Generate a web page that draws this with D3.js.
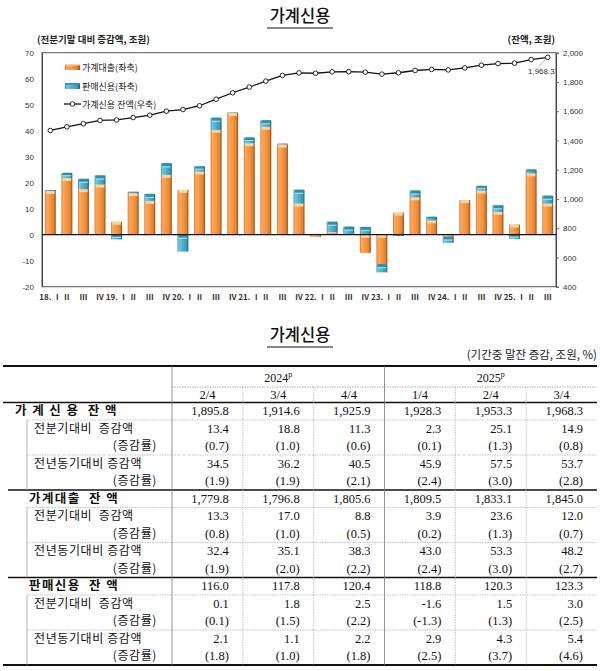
<!DOCTYPE html>
<html><head><meta charset="utf-8">
<script src="https://cdn.jsdelivr.net/npm/d3@7"></script>
<style>body{margin:0;background:#fff} svg{display:block}</style>
</head><body><svg id="c" width="600" height="671"></svg>
<script>
// ---------- chart data ----------
const periods = ["18Q1","18Q2","18Q3","18Q4","19Q1","19Q2","19Q3","19Q4","20Q1","20Q2","20Q3","20Q4",
  "21Q1","21Q2","21Q3","21Q4","22Q1","22Q2","22Q3","22Q4","23Q1","23Q2","23Q3","23Q4",
  "24Q1","24Q2","24Q3","24Q4","25Q1","25Q2","25Q3"];
const tickLabels = ["18. Ⅰ","Ⅱ","Ⅲ","Ⅳ","19. Ⅰ","Ⅱ","Ⅲ","Ⅳ","20. Ⅰ","Ⅱ","Ⅲ","Ⅳ",
  "21. Ⅰ","Ⅱ","Ⅲ","Ⅳ","22. Ⅰ","Ⅱ","Ⅲ","Ⅳ","23. Ⅰ","Ⅱ","Ⅲ","Ⅳ",
  "24. Ⅰ","Ⅱ","Ⅲ","Ⅳ","25. Ⅰ","Ⅱ","Ⅲ"];
const loans = [16.8,21.8,17.5,19.3,5.0,16.0,13.0,23.0,17.2,24.3,40.3,46.8,
  35.2,41.5,34.7,12.0,-0.8,1.0,0.3,-7.0,-11.3,8.5,14.4,5.5,
  -0.8,13.3,17.0,8.8,3.9,23.6,12.0];
const sales = [0.4,2.0,4.0,3.5,-1.8,0.5,2.7,4.5,-6.5,2.0,4.7,0.2,
  2.2,2.5,0.3,5.3,0.3,4.0,2.8,3.0,-3.2,-0.5,2.6,1.4,
  -2.3,0.1,1.8,2.5,-1.6,1.5,3.0];
const balance = [1468.2,1493.2,1514.4,1536.7,1540.0,1556.7,1572.7,1600.3,1611.3,1637.3,1682.1,1726.1,
  1765.0,1805.9,1844.9,1862.1,1859.4,1869.3,1870.6,1867.0,1853.3,1862.8,1878.3,1885.5,
  1882.4,1895.8,1914.6,1925.9,1928.3,1953.3,1968.3];
const leftTicks = [70,60,50,40,30,20,10,0,-10,-20];
const rightTicks = [2000,1800,1600,1400,1200,1000,800,600,400];
const legendLabels = ["가계대출(좌축)","판매신용(좌축)","가계신용 잔액(우축)"];

// ---------- table data ----------
const colYears = ["2024","2025"];
const colQuarters = ["2/4","3/4","4/4","1/4","2/4","3/4"];
const rowLabels = ["가 계 신 용  잔 액","전분기대비  증감액","(증감률)","전년동기대비 증감액","(증감률)",
  "가계대출  잔 액","전분기대비  증감액","(증감률)","전년동기대비 증감액","(증감률)",
  "판매신용  잔 액","전분기대비  증감액","(증감률)","전년동기대비 증감액","(증감률)"];
const hcBal = [1895.8,1914.6,1925.9,1928.3,1953.3,1968.3];
const hcQoq = [13.4,18.8,11.3,2.3,25.1,14.9];
const hcQoqR = [0.7,1.0,0.6,0.1,1.3,0.8];
const hcYoy = [34.5,36.2,40.5,45.9,57.5,53.7];
const hcYoyR = [1.9,1.9,2.1,2.4,3.0,2.8];
const hlBal = [1779.8,1796.8,1805.6,1809.5,1833.1,1845.0];
const hlQoq = [13.3,17.0,8.8,3.9,23.6,12.0];
const hlQoqR = [0.8,1.0,0.5,0.2,1.3,0.7];
const hlYoy = [32.4,35.1,38.3,43.0,53.3,48.2];
const hlYoyR = [1.9,2.0,2.2,2.4,3.0,2.7];
const scBal = [116.0,117.8,120.4,118.8,120.3,123.3];
const scQoq = [0.1,1.8,2.5,-1.6,1.5,3.0];
const scQoqR = [0.1,1.5,2.2,-1.3,1.3,2.5];
const scYoy = [2.1,1.1,2.2,2.9,4.3,5.4];
const scYoyR = [1.8,1.0,1.8,2.5,3.7,4.6];

const svg = d3.select("#c");
const KR = "'Noto Sans CJK KR','Noto Sans',sans-serif";
const SERIF = "'Liberation Serif','DejaVu Serif',serif";
const SANS = "'Liberation Sans',Arial,sans-serif";
const loc = d3.formatLocale({decimal:".", thousands:",", grouping:[3], currency:["",""], minus:"-"});

// ---------- defs ----------
const defs = svg.append("defs");
function grad(id, stops){
  const g = defs.append("linearGradient").attr("id",id).attr("x1","0").attr("x2","1").attr("y1","0").attr("y2","0");
  stops.forEach(s=>g.append("stop").attr("offset",s[0]).attr("stop-color",s[1]));
}
grad("gO",[[0,"#c8742c"],[0.12,"#fba75e"],[0.5,"#f7973f"],[0.82,"#e3822c"],[1,"#8e4c16"]]);
grad("gB",[[0,"#3a96ad"],[0.12,"#72c7dc"],[0.5,"#4bb0cb"],[0.82,"#3a9ab3"],[1,"#1d6477"]]);

// ---------- titles ----------
function title(y){
  svg.append("text").attr("x",300).attr("y",y).attr("text-anchor","middle")
    .attr("font-family",KR).attr("font-size",16.5).attr("font-weight",500).attr("fill","#111").text("가계신용");
  svg.append("line").attr("x1",267).attr("x2",333).attr("y1",y+6).attr("y2",y+6).attr("stroke","#111").attr("stroke-width",1.2);
}
title(22);

// ---------- chart ----------
const x0 = 42, x1 = 556, yT = 52.7, yB = 286.7;
const x = d3.scaleBand().domain(periods).range([x0,x1]).paddingInner(0.34).paddingOuter(0.17);
const yL = d3.scaleLinear().domain([-20,70]).range([yB,yT]);
const yR = d3.scaleLinear().domain([400,2000]).range([yB,yT]);

svg.append("text").attr("x",37).attr("y",43).attr("font-family",KR).attr("font-size",9.5).attr("font-weight",700)
  .attr("fill","#222").text("(전분기말 대비 증감액, 조원)");
svg.append("text").attr("x",555).attr("y",43).attr("text-anchor","end").attr("font-family",KR).attr("font-size",9.5)
  .attr("font-weight",700).attr("fill","#222").text("(잔액, 조원)");

// frame
svg.append("rect").attr("x",x0).attr("y",yT).attr("width",x1-x0).attr("height",yB-yT)
  .attr("fill","none").attr("stroke","#555").attr("stroke-width",1);

// left axis
const gL = svg.append("g").attr("transform",`translate(${x0},0)`)
  .call(d3.axisLeft(yL).tickValues(leftTicks).tickSize(0).tickPadding(8).tickFormat(loc.format("d")));
gL.select(".domain").attr("stroke","#444");
gL.selectAll("text").attr("font-family",SANS).attr("font-size",8).attr("fill","#333");

// right axis
const gR = svg.append("g").attr("transform",`translate(${x1},0)`)
  .call(d3.axisRight(yR).tickValues(rightTicks).tickSize(3).tickPadding(4).tickFormat(loc.format(",")));
gR.select(".domain").attr("stroke","#444");
gR.selectAll("line").attr("stroke","#666");
gR.selectAll("text").attr("font-family",SANS).attr("font-size",8).attr("fill","#333");

// x labels
const gX = svg.append("g").attr("transform",`translate(0,${yB})`)
  .call(d3.axisBottom(x).tickSize(0).tickPadding(8).tickFormat((d,i)=>tickLabels[i]));
gX.select(".domain").remove();
gX.selectAll("text").attr("font-family",KR).attr("font-size",8).attr("font-weight",700).attr("fill","#333");

// bars (stacked, diverging)
const rows = periods.map((p,i)=>({p, loans:loans[i], sales:sales[i]}));
const stack = d3.stack().keys(["loans","sales"]).offset(d3.stackOffsetDiverging)(rows);
const fills = {loans:"url(#gO)", sales:"url(#gB)"};
const caps = {loans:"#fcd3a4", sales:"#2f8ea8"};
const capsLight = {loans:"#f6b77a", sales:"#9fdced"};
stack.forEach(layer=>{
  const g = svg.append("g");
  layer.forEach(d=>{
    const top = yL(Math.max(d[0],d[1])), bot = yL(Math.min(d[0],d[1]));
    const h = bot-top;
    if (h < 0.3) return;
    const bx = x(d.data.p), bw = x.bandwidth();
    g.append("rect").attr("x",bx).attr("y",top).attr("width",bw).attr("height",h).attr("fill",fills[layer.key]);
    const ch = Math.min(3, h*0.45);
    g.append("rect").attr("x",bx+1.2).attr("y",top).attr("width",bw-2.4).attr("height",ch).attr("fill",caps[layer.key]);
    if (layer.key==="sales" && h>4)
      g.append("rect").attr("x",bx+1.2).attr("y",top+ch).attr("width",bw-2.4).attr("height",1.2).attr("fill",capsLight.sales);
  });
});

// zero line
svg.append("line").attr("x1",x0).attr("x2",x1).attr("y1",yL(0)).attr("y2",yL(0)).attr("stroke","#111").attr("stroke-width",1.2);

// balance line
const cx = p => x(p)+x.bandwidth()/2;
const line = d3.line().x((d,i)=>cx(periods[i])).y(d=>yR(d));
svg.append("path").datum(balance).attr("d",line).attr("fill","none").attr("stroke","#111").attr("stroke-width",1.3);
svg.append("g").selectAll("circle").data(balance).join("circle")
  .attr("cx",(d,i)=>cx(periods[i])).attr("cy",d=>yR(d)).attr("r",2.3)
  .attr("fill","#fff").attr("stroke","#111").attr("stroke-width",0.9);
// data label
const lastX = cx(periods[periods.length-1]), lastY = yR(balance[balance.length-1]);
svg.append("line").attr("x1",lastX-2).attr("y1",lastY+2).attr("x2",lastX-9).attr("y2",lastY+9).attr("stroke","#999").attr("stroke-width",0.7);
svg.append("text").attr("x",lastX+7).attr("y",lastY+17).attr("text-anchor","end").attr("font-family",SANS)
  .attr("font-size",8).attr("fill","#333").text(loc.format(",.1f")(balance[balance.length-1]));

// legend
const lg = svg.append("g");
[0,1].forEach(i=>{
  const ly = 67 + i*19;
  lg.append("rect").attr("x",65).attr("y",ly-3).attr("width",15).attr("height",6).attr("fill",i?"url(#gB)":"url(#gO)");
  lg.append("rect").attr("x",65).attr("y",ly-3).attr("width",15).attr("height",1.5).attr("fill",i?caps.sales:caps.loans);
  lg.append("text").attr("x",82).attr("y",ly+3.5).attr("font-family",KR).attr("font-size",9).attr("fill","#222").text(legendLabels[i]);
});
lg.append("line").attr("x1",64).attr("x2",81).attr("y1",104).attr("y2",104).attr("stroke","#111").attr("stroke-width",1.3);
lg.append("circle").attr("cx",72.5).attr("cy",104).attr("r",2.3).attr("fill","#fff").attr("stroke","#111").attr("stroke-width",0.9);
lg.append("text").attr("x",82).attr("y",107.5).attr("font-family",KR).attr("font-size",9).attr("fill","#222").text(legendLabels[2]);

// ---------- table ----------
title(341);
svg.append("text").attr("x",597).attr("y",359).attr("text-anchor","end").attr("font-family",KR)
  .attr("font-size",11.5).attr("fill","#222").text("(기간중 말잔 증감, 조원, %)");

const tL = 3, tR = 597, labR = 172, colW = (tR-labR)/6;
const tTop = 366, hdrMid = 387, hdrBot = 402.5, rowH = 17.5;
const tBot = hdrBot + rowH*15;
const T = svg.append("g");
const hl = (xa,xb,y,w,c,dash)=>T.append("line").attr("x1",xa).attr("x2",xb).attr("y1",y).attr("y2",y)
  .attr("stroke",c).attr("stroke-width",w).attr("stroke-dasharray",dash||null);
const vl = (xx,ya,yb,w,c,dash)=>T.append("line").attr("x1",xx).attr("x2",xx).attr("y1",ya).attr("y2",yb)
  .attr("stroke",c).attr("stroke-width",w).attr("stroke-dasharray",dash||null);

hl(tL,tR,tTop,2,"#111");
hl(labR,tR,hdrMid,0.8,"#999","1.5,1");
hl(tL,tR,hdrBot,1.5,"#111");
hl(8,tR,hdrBot+rowH*5,1.5,"#111");
hl(8,tR,hdrBot+rowH*10,1.5,"#111");
hl(tL,tR,tBot,2,"#111");
vl(labR,tTop,tBot,0.8,"#777");
vl(labR+colW*3,tTop,tBot,0.8,"#777");
[1,2,4,5].forEach(k=>vl(labR+colW*k,hdrMid,tBot,0.7,"#aaa","1.5,1"));
[0,1,2].forEach(g=>{
  const gy = hdrBot + g*rowH*5;
  hl(27,tR,gy+rowH,0.7,"#aaa","1.5,1");
  hl(27,tR,gy+rowH*3,0.7,"#aaa","1.5,1");
  vl(27,gy+rowH,gy+rowH*5,0.7,"#999");
});

// header text
colYears.forEach((yr,i)=>{
  const t = T.append("text").attr("x",labR+colW*(1.5+3*i)).attr("y",382).attr("text-anchor","middle")
    .attr("font-family",SERIF).attr("font-size",12).attr("fill","#111");
  t.append("tspan").text(yr);
  t.append("tspan").attr("font-size",8).attr("dy",-5).text("p");
});
colQuarters.forEach((q,i)=>{
  T.append("text").attr("x",labR+colW*(i+0.5)).attr("y",399).attr("text-anchor","middle")
    .attr("font-family",SERIF).attr("font-size",12.5).attr("fill","#111").text(q);
});

const tableVals = [hcBal,hcQoq,hcQoqR,hcYoy,hcYoyR, hlBal,hlQoq,hlQoqR,hlYoy,hlYoyR, scBal,scQoq,scQoqR,scYoy,scYoyR];
const f1 = loc.format(",.1f");
tableVals.forEach((vals,r)=>{
  const yC = hdrBot + rowH*(r+0.5) + 4.2;
  const kind = r%5;
  const lab = rowLabels[r];
  const t = T.append("text").attr("y",yC).attr("font-family",KR).attr("fill","#111");
  if (kind===0){
    t.attr("x", r===0?15:29).attr("font-size",12.5).attr("font-weight",700).attr("letter-spacing",1.4)
      .attr("xml:space","preserve").text(lab);
  } else if (kind===2 || kind===4){
    t.attr("x",157).attr("text-anchor","end").attr("font-size",12).attr("letter-spacing",0.6).text(lab);
  } else {
    t.attr("x",34).attr("font-size",12).attr("letter-spacing",0.6).attr("xml:space","preserve").text(lab);
  }
  vals.forEach((v,c)=>{
    const s = (kind===2||kind===4) ? "("+f1(v)+")" : f1(v);
    T.append("text").attr("x",labR+colW*(c+1)-14).attr("y",yC).attr("text-anchor","end")
      .attr("font-family",SERIF).attr("font-size",12.5).attr("fill","#111").text(s);
  });
});
</script></body></html>
